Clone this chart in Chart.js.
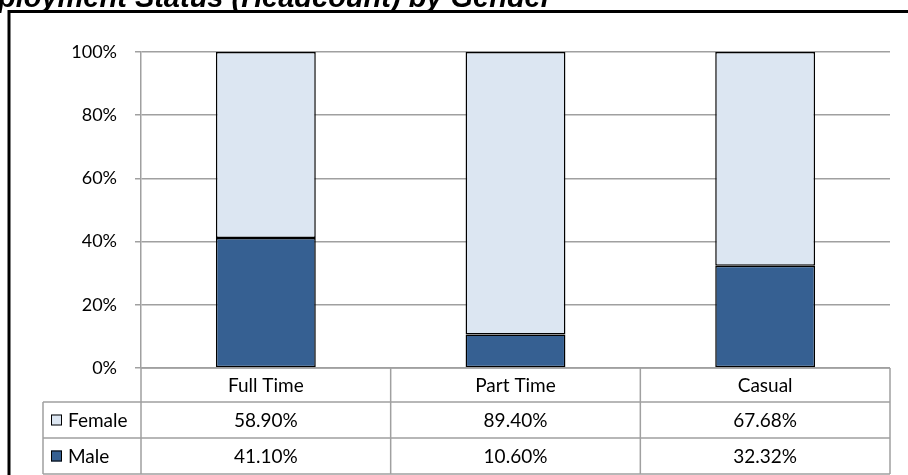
<!DOCTYPE html>
<html>
<head>
<meta charset="utf-8">
<script src="https://cdn.jsdelivr.net/npm/chart.js@4"></script>
<style>
  html, body { margin: 0; padding: 0; background: #fff; }
  #wrap { position: relative; width: 908px; height: 475px; }
</style>
</head>
<body>
<div id="wrap"><canvas id="chart"></canvas></div>
<script>
const titleHidden = 'Em';
const titleShown = 'ployment Status (Headcount) by Gender';
const categories = ['Full Time', 'Part Time', 'Casual'];
const female = [58.90, 89.40, 67.68];
const male = [41.10, 10.60, 32.32];
const yTicks = [0, 20, 40, 60, 80, 100];

const FEMALE_COLOR = '#dce6f2';
const MALE_COLOR = '#366092';
const LINE_GRAY = '#a0a0a0';
const TABLE_FONT = '19px Lato, "Open Sans", sans-serif';
const TITLE_FAMILY = '"Liberation Sans", Arial, sans-serif';

Chart.defaults.font.family = 'Lato, "Open Sans", sans-serif';
Chart.defaults.font.size = 18;
Chart.defaults.color = '#000';

// title (cut off at the top-left, like the source) and the black frame
const framePlugin = {
  id: 'frame',
  beforeDraw(chart) {
    const c = chart.ctx;
    c.save();
    c.fillStyle = '#fff';
    c.fillRect(0, 0, chart.width, chart.height);
    c.strokeStyle = '#000';
    c.lineWidth = 3;
    c.strokeRect(9, 11.5, chart.width + 20, chart.height + 20);

    // size the title so the visible part runs from the left edge to x = 552
    c.font = 'bold italic 100px ' + TITLE_FAMILY;
    const size = 100 * 554 / c.measureText(titleShown).width;
    c.font = 'bold italic ' + size.toFixed(2) + 'px ' + TITLE_FAMILY;
    const hidden = c.measureText(titleHidden).width;
    c.fillStyle = '#000';
    c.textAlign = 'left';
    c.textBaseline = 'alphabetic';
    c.fillText(titleHidden + titleShown, -2 - hidden, 6.5);
    c.restore();
  }
};

// data table under the plot, columns follow the x scale
const tablePlugin = {
  id: 'dataTable',
  afterDraw(chart) {
    const c = chart.ctx;
    const area = chart.chartArea;
    const x = chart.scales.x;
    const rowH = [34, 36, 36];
    const top = area.bottom;
    const tableLeft = 43;
    const colW = (area.right - area.left) / categories.length;
    const y1 = top + rowH[0], y2 = y1 + rowH[1], y3 = y2 + rowH[2];

    c.save();
    c.strokeStyle = LINE_GRAY;
    c.lineWidth = 1.5;
    c.beginPath();
    // horizontal lines
    c.moveTo(area.left, top); c.lineTo(area.right, top);
    c.moveTo(tableLeft, y1); c.lineTo(area.right, y1);
    c.moveTo(tableLeft, y2); c.lineTo(area.right, y2);
    c.moveTo(tableLeft, y3); c.lineTo(area.right, y3);
    // vertical lines
    c.moveTo(tableLeft, y1); c.lineTo(tableLeft, y3);
    for (let i = 0; i <= categories.length; i++) {
      const lx = area.left + colW * i;
      c.moveTo(lx, top); c.lineTo(lx, y3);
    }
    c.stroke();

    c.fillStyle = '#000';
    c.font = TABLE_FONT;
    c.textAlign = 'center';
    c.textBaseline = 'middle';
    categories.forEach((cat, i) => {
      const cx = x.getPixelForValue(i);
      c.fillText(cat, cx, top + rowH[0] / 2 + 1);
      c.fillText(female[i].toFixed(2) + '%', cx, y1 + rowH[1] / 2 + 1);
      c.fillText(male[i].toFixed(2) + '%', cx, y2 + rowH[2] / 2 + 1);
    });

    // legend keys in the row headers
    const rows = [
      { label: 'Female', color: FEMALE_COLOR, y: y1 + rowH[1] / 2 },
      { label: 'Male', color: MALE_COLOR, y: y2 + rowH[2] / 2 }
    ];
    c.textAlign = 'left';
    rows.forEach(r => {
      c.fillStyle = r.color;
      c.fillRect(51, r.y - 5.5, 11, 11);
      c.strokeStyle = '#000';
      c.lineWidth = 1;
      c.strokeRect(51.5, r.y - 5, 10, 10);
      c.fillStyle = '#000';
      c.fillText(r.label, 68, r.y + 1);
    });
    c.restore();
  }
};

new Chart(document.getElementById('chart'), {
  type: 'bar',
  data: {
    labels: categories,
    datasets: [
      { label: 'Male', data: male, backgroundColor: MALE_COLOR, borderColor: '#000', borderWidth: 1.5, borderSkipped: false },
      { label: 'Female', data: female, backgroundColor: FEMALE_COLOR, borderColor: '#000', borderWidth: 1.5, borderSkipped: false }
    ]
  },
  options: {
    responsive: true,
    maintainAspectRatio: false,
    animation: false,
    datasets: { bar: { barPercentage: 0.4, categoryPercentage: 1 } },
    layout: { padding: { left: 0, right: 18, top: 52, bottom: 107 } },
    plugins: { legend: { display: false }, tooltip: { enabled: false } },
    scales: {
      x: { stacked: true, display: false },
      y: {
        stacked: true,
        min: 0,
        max: 100,
        afterFit: s => { s.width = 141; },
        afterBuildTicks: s => { s.ticks = yTicks.map(v => ({ value: v })); },
        ticks: { callback: v => v + '%', padding: 18 },
        grid: { color: LINE_GRAY, lineWidth: 1.5, tickLength: 6 },
        border: { display: true, color: LINE_GRAY, width: 1.5 }
      }
    }
  },
  plugins: [framePlugin, tablePlugin]
});
</script>
</body>
</html>
